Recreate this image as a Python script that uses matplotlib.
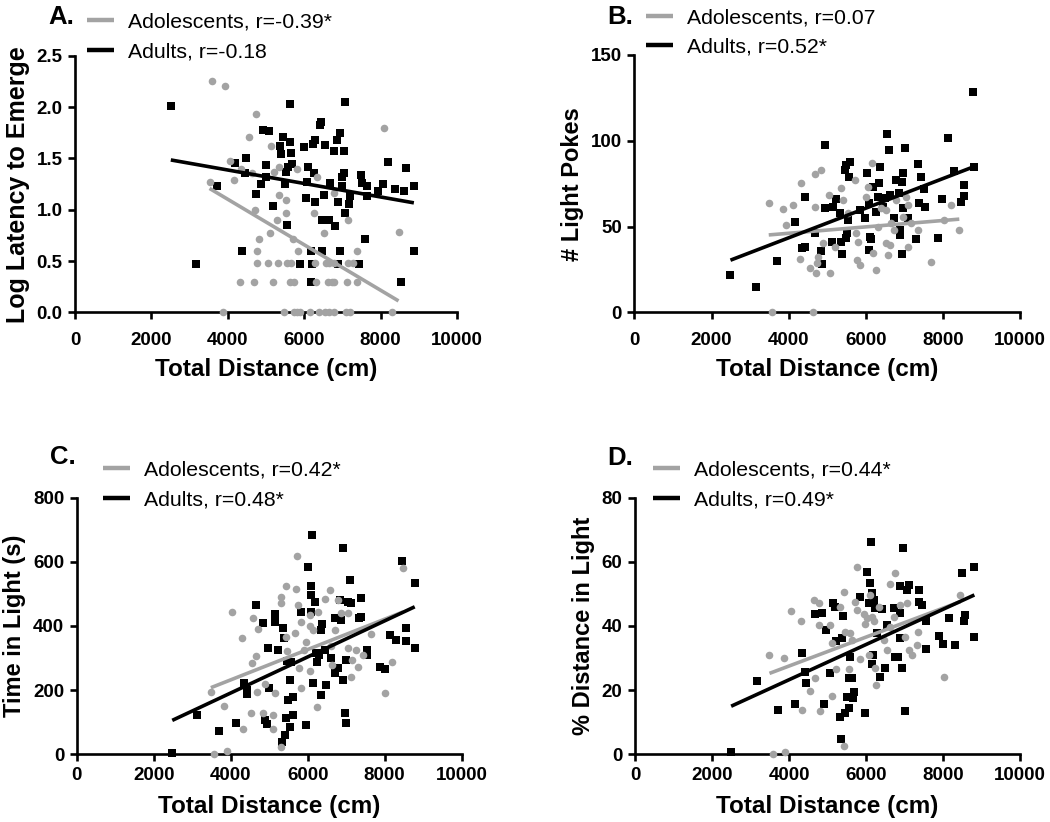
import numpy as np
import matplotlib
matplotlib.use("Agg")
import matplotlib.pyplot as plt
from matplotlib.lines import Line2D

plt.rcParams['font.family'] = ['Liberation Sans', 'DejaVu Sans']

# ---------------- Panel A: Log Latency to Emerge ----------------
A_adult_x = [2509, 3173, 3724, 4178, 4476, 4441, 4362, 4729, 4913, 5087, 4878, 4991, 5000, 5184,
             5376, 5402, 5446, 5507, 5533, 5559, 5638, 5621, 5664, 5690, 5577, 5900, 6005, 6075,
             6058, 6093, 6171, 6180, 6206, 6224, 6250, 6276, 6294, 6425, 6451, 6469, 6512, 6469,
             6643, 6556, 6687, 6774, 6801, 6862, 6932, 6888, 6879, 6949, 6993, 7036, 7036, 6993,
             7080, 7080, 7168, 7194, 7430, 7491, 7517, 7605, 7649, 7649, 7937, 8059, 8191, 8365,
             8523, 8610, 8654, 8872, 8872]
A_adult_y = [2.01, 0.47, 1.23, 1.46, 1.50, 1.36, 0.60, 1.15, 1.78, 1.77, 1.25, 1.44, 1.32, 1.04,
             1.62, 1.54, 1.71, 1.25, 1.37, 0.85, 2.03, 1.66, 1.55, 1.45, 1.42, 0.47, 1.61, 1.27,
             1.11, 1.42, 0.60, 0.30, 0.47, 1.64, 1.36, 1.08, 1.68, 1.83, 1.86, 0.60, 1.14, 0.90,
             0.90, 1.63, 1.26, 1.57, 0.84, 1.68, 1.75, 1.08, 0.47, 0.60, 1.32, 1.36, 1.57, 1.23,
             2.05, 0.97, 1.06, 1.13, 0.47, 1.34, 1.26, 0.71, 1.23, 1.13, 1.18, 1.25, 1.47, 1.20,
             0.30, 1.18, 1.41, 1.23, 0.60]
A_adol_x = [3593, 3934, 3523, 4047, 4152, 4353, 4633, 4545, 4746, 4720, 4808, 4764, 5131, 5201,
            5350, 5289, 5096, 5533, 5350, 5525, 5708, 5813, 5839, 6250, 6337, 6512, 6774, 7150,
            7386, 8103, 8470,
            4773, 5061, 5323, 5551, 5656, 6285, 6582, 6643, 6774, 7150, 7281,
            4327, 4676, 5184, 5638, 5743, 6320, 6626, 6731, 6774, 7124, 7386,
            3872, 5481, 5726, 5813, 5900, 6145, 6390, 6556, 6661, 6774, 7098, 7211, 8287]
A_adol_y = [2.26, 2.21, 1.27, 1.48, 1.29, 1.40, 1.36, 1.71, 1.93, 1.00, 0.71, 0.60, 1.62, 1.37,
            1.42, 0.90, 0.77, 0.97, 1.14, 1.10, 0.71, 1.40, 0.60, 0.97, 1.32, 0.77, 1.16, 0.90,
            0.60, 1.80, 0.78,
            0.48, 0.48, 0.48, 0.48, 0.48, 0.48, 0.48, 0.48, 0.48, 0.48, 0.48,
            0.30, 0.30, 0.30, 0.30, 0.30, 0.30, 0.30, 0.30, 0.30, 0.30, 0.30,
            0.0, 0.0, 0.0, 0.0, 0.0, 0.0, 0.0, 0.0, 0.0, 0.0, 0.0, 0.0, 0.0]

# ---------------- Panel B: # Light Pokes ----------------
B_adult_x = [2491, 3147, 3690, 4155, 4422, 4353, 4431, 4940, 4940, 4845, 4862, 4681, 5147, 5233,
             5121, 5345, 5379, 5336, 5448, 5491, 5595, 5560, 5534, 5491, 5517, 5836, 5966, 6026,
             6078, 6095, 6078, 6138, 6181, 6250, 6310, 6336, 6353, 6440, 6543, 6595, 6483, 6629,
             6741, 6784, 6853, 6871, 6931, 6931, 6957, 6974, 7017, 7086, 6871, 7302, 7345, 7388,
             7431, 7517, 7543, 7862, 7966, 8121, 8276, 8466, 8552, 8534, 8793, 8767]
B_adult_y = [21.8, 14.6, 29.7, 52.7, 67.4, 37.3, 38.3, 97.5, 60.6, 35.7, 28.0, 46.0, 61.6, 66.1,
             41.2, 41.2, 33.8, 57.7, 83.0, 85.9, 87.8, 79.1, 53.8, 43.1, 46.0, 59.6, 54.8, 81.4,
             63.5, 44.1, 36.3, 42.5, 73.2, 58.7, 67.4, 75.2, 84.9, 61.6, 103.7, 94.6, 66.4, 68.4,
             54.8, 77.1, 69.4, 45.1, 33.8, 76.2, 81.4, 60.6, 95.6, 54.8, 48.0, 42.5, 86.5, 63.5,
             79.1, 71.7, 61.6, 43.5, 65.9, 101.4, 82.6, 64.5, 74.2, 67.8, 84.5, 128.4]
B_adol_x = [3569, 4629, 3483, 3853, 4112, 4328, 3922, 4302, 4543, 4698, 4741, 4690, 4845, 4690,
            4759, 5060, 5043, 4888, 5190, 5362, 5405, 5534, 5707, 5750, 5793, 5836, 5767, 6009,
            6052, 6164, 6181, 6267, 6310, 6397, 6509, 6569, 6526, 6629, 6655, 6741, 6784, 6957,
            7086, 7086, 7172, 7345, 7690, 8017, 8207, 8420, 7043]
B_adol_y = [0.0, 0.0, 63.5, 60.0, 62.8, 75.6, 50.9, 30.9, 25.6, 22.7, 28.6, 80.6, 83.0, 61.6,
            32.4, 22.7, 68.4, 40.6, 38.3, 72.3, 65.5, 57.7, 77.1, 46.0, 41.2, 27.6, 30.5, 67.4,
            73.2, 86.8, 34.4, 24.7, 49.9, 60.6, 59.6, 33.4, 40.6, 39.2, 51.9, 48.0, 65.5, 55.8,
            62.6, 38.3, 51.9, 48.0, 29.5, 53.8, 62.6, 48.0, 67.4]

# ---------------- Panel C: Time in Light (s) ----------------
C_adult_x = [2483, 3131, 3694, 4135, 4351, 4412, 4412, 4671, 4844, 4888, 4931, 4957, 5000, 5147,
             5147, 5234, 5363, 5381, 5337, 5407, 5450, 5493, 5536, 5467, 5580, 5606, 5623, 5536,
             5839, 5969, 6012, 6099, 6081, 6099, 6125, 6142, 6185, 6211, 6246, 6298, 6358, 6384,
             6358, 6445, 6488, 6618, 6704, 6704, 6791, 6834, 6877, 6920, 6920, 6963, 7007, 7007,
             7050, 7093, 7136, 7335, 7396, 7396, 7543, 7543, 7872, 8002, 8131, 8304, 8451, 8547,
             8547, 8780, 8780]
C_adult_y = [3, 123, 71, 97, 221, 200, 188, 465, 410, 107, 95, 332, 206, 437,
             413, 325, 393, 362, 39, 60, 112, 169, 232, 292, 289, 180, 123, 86,
             445, 91, 585, 526, 497, 445, 685, 221, 476, 317, 289, 310, 388, 406,
             185, 325, 216, 299, 424, 252, 268, 481, 419, 644, 232, 128, 99, 294,
             476, 543, 471, 424, 488, 429, 325, 310, 273, 265, 372, 356, 603, 393,
             354, 332, 535]
C_adol_x = [3573, 3893, 3486, 3824, 4023, 4282, 4325, 4516, 4559, 4585, 4715, 4671, 4689, 4844,
            4888, 5087, 5104, 5147, 5303, 5303, 5433, 5303, 5433, 5467, 5683, 5709, 5735, 5753,
            5778, 5839, 5839, 5900, 5969, 6055, 6073, 6055, 6142, 6246, 6272, 6445, 6575, 6618,
            6644, 6704, 6791, 6877, 7050, 7050, 7136, 7163, 7266, 7309, 7439, 7656, 8002, 8201,
            8478]
C_adol_y = [0, 10, 195, 149, 444, 362, 78, 130, 286, 424, 390, 306, 195, 128,
            219, 123, 78, 190, 473, 489, 526, 24, 367, 323, 379, 515, 618, 465,
            268, 206, 413, 325, 351, 400, 434, 261, 388, 146, 445, 483, 512, 336,
            278, 388, 481, 439, 439, 330, 242, 294, 325, 273, 310, 375, 190, 287,
            580]

# ---------------- Panel D: % Distance in Light ----------------
D_adult_x = [2496, 3163, 3700, 4160, 4333, 4419, 4445, 4679, 4853, 4896, 4965, 5052, 5139, 5199,
             5225, 5373, 5399, 5347, 5329, 5459, 5503, 5555, 5572, 5546, 5633, 5676, 5659, 5849,
             5979, 6023, 6066, 6109, 6135, 6153, 6179, 6153, 6213, 6239, 6282, 6369, 6412, 6499,
             6542, 6716, 6759, 6828, 6889, 6889, 6932, 6958, 6889, 7019, 7062, 7106, 7366, 7366,
             7452, 7565, 7565, 7886, 7998, 8146, 8302, 8492, 8579, 8536, 8813, 8795]
D_adult_y = [0.8, 22.9, 13.8, 15.6, 31.5, 25.8, 22.1, 43.7, 43.9, 15.6, 38.8, 25.2, 47.3, 46.0,
             35.4, 36.2, 43.0, 4.7, 11.7, 12.8, 18.0, 14.3, 30.2, 23.7, 23.7, 19.5, 17.5, 49.1,
             13.0, 56.9, 47.1, 53.5, 66.3, 50.2, 31.0, 28.1, 48.0, 45.5, 37.9, 24.0, 45.2, 26.8,
             40.2, 45.7, 30.2, 30.2, 43.9, 36.2, 26.8, 64.2, 52.5, 13.6, 51.2, 52.8, 51.2, 47.6,
             46.5, 41.4, 32.7, 36.9, 34.4, 42.4, 34.1, 56.4, 43.4, 41.4, 58.5, 36.7]
D_adol_x = [3579, 3899, 3492, 3856, 4047, 4315, 4333, 4532, 4636, 4766, 4679, 4766, 4809, 5069,
            5113, 5113, 5225, 5329, 5416, 5459, 5416, 5546, 5572, 5633, 5719, 5763, 5763, 5849,
            5936, 5979, 6066, 6023, 6109, 6153, 6196, 6239, 6265, 6326, 6456, 6542, 6629, 6629,
            6716, 6759, 6889, 7019, 7062, 7106, 7192, 7322, 7340, 8016, 8450]
D_adol_y = [0.0, 0.8, 30.9, 30.0, 44.7, 41.4, 13.8, 19.8, 48.1, 47.3, 23.7, 40.3, 13.6, 40.3,
            18.2, 34.8, 26.5, 45.8, 50.7, 38.1, 2.6, 26.5, 37.7, 35.6, 47.6, 58.5, 45.0, 29.6,
            43.7, 40.6, 31.0, 42.4, 49.7, 42.9, 41.4, 26.8, 21.6, 46.0, 35.6, 32.5, 39.8, 53.0,
            42.9, 56.4, 46.5, 36.5, 47.1, 32.5, 31.0, 34.1, 38.2, 24.2, 49.7]

# legend labels
A_labels = ["Adolescents, r=-0.39*", "Adults, r=-0.18"]
B_labels = ["Adolescents, r=0.07", "Adults, r=0.52*"]
C_labels = ["Adolescents, r=0.42*", "Adults, r=0.48*"]
D_labels = ["Adolescents, r=0.44*", "Adults, r=0.49*"]

y_labels = ["Log Latency to Emerge", "# Light Pokes", "Time in Light (s)", "% Distance in Light"]
panel_letters = ["A.", "B.", "C.", "D."]
x_label = "Total Distance (cm)"
x_ticks = [0, 2000, 4000, 6000, 8000, 10000]

GRAY = "#a3a3a3"
BLACK = "#000000"
W, H = 1050, 822

fig = plt.figure(figsize=(10.5, 8.22), dpi=100)

# legend anchors given in pixels (handle left x, row1 y, row2 y); letter position in pixels
panels = [
    dict(rect=[0.0714, 0.6201, 0.3638, 0.3118], ad=(A_adult_x, A_adult_y), ado=(A_adol_x, A_adol_y),
         labels=A_labels, ylim=(0, 2.5), yticks=[0, 0.5, 1.0, 1.5, 2.0, 2.5], yfmt="{:.1f}",
         leg=(87, 20, 50), letter=(48, 14), xpad=9, xlabpad=7, ylabsize=18, ylabpad=5),
    dict(rect=[0.6041, 0.6201, 0.3676, 0.3130], ad=(B_adult_x, B_adult_y), ado=(B_adol_x, B_adol_y),
         labels=B_labels, ylim=(0, 150), yticks=[0, 50, 100, 150], yfmt="{:.0f}",
         leg=(646, 16, 45), letter=(607, 14), xpad=9, xlabpad=7, ylabsize=17, ylabpad=5),
    dict(rect=[0.0730, 0.0824, 0.3667, 0.3122], ad=(C_adult_x, C_adult_y), ado=(C_adol_x, C_adol_y),
         labels=C_labels, ylim=(0, 800), yticks=[0, 200, 400, 600, 800], yfmt="{:.0f}",
         leg=(103, 468, 498), letter=(50, 454), xpad=4, xlabpad=8, ylabsize=17, ylabpad=5),
    dict(rect=[0.6048, 0.0824, 0.3667, 0.3122], ad=(D_adult_x, D_adult_y), ado=(D_adol_x, D_adol_y),
         labels=D_labels, ylim=(0, 80), yticks=[0, 20, 40, 60, 80], yfmt="{:.0f}",
         leg=(653, 468, 498), letter=(607, 455), xpad=4, xlabpad=8, ylabsize=17, ylabpad=5),
]

for i, p in enumerate(panels):
    ax = fig.add_axes(p["rect"])
    ax_x, ax_y = np.array(p["ad"][0], float), np.array(p["ad"][1], float)
    ao_x, ao_y = np.array(p["ado"][0], float), np.array(p["ado"][1], float)

    ax.scatter(ax_x, ax_y, marker="s", s=32, color=BLACK, linewidths=0, zorder=3, clip_on=False)
    ax.scatter(ao_x, ao_y, marker="o", s=30, color=GRAY, linewidths=0, zorder=4, clip_on=False)

    # regression lines from the data
    for xs, ys, col in [(ao_x, ao_y, GRAY), (ax_x, ax_y, BLACK)]:
        m, b = np.polyfit(xs, ys, 1)
        xx = np.array([xs.min(), xs.max()])
        ax.plot(xx, m * xx + b, color=col, lw=2.6, zorder=5, solid_capstyle="butt")

    ax.set_xlim(0, 10000)
    ax.set_ylim(*p["ylim"])
    ax.set_xticks(x_ticks)
    ax.set_xticklabels([str(t) for t in x_ticks])
    ax.set_yticks(p["yticks"])
    ax.set_yticklabels([p["yfmt"].format(t) for t in p["yticks"]])
    for s in ["top", "right"]:
        ax.spines[s].set_visible(False)
    for s in ["left", "bottom"]:
        ax.spines[s].set_linewidth(1.9)
    ax.tick_params(axis="both", direction="out", length=5, width=1.9, labelsize=13.5, pad=4)
    ax.tick_params(axis="x", pad=p["xpad"])
    for lab in ax.get_xticklabels() + ax.get_yticklabels():
        lab.set_fontweight("bold")
    ax.set_xlabel(x_label, fontsize=17.5, fontweight="bold", labelpad=p["xlabpad"])
    ax.set_ylabel(y_labels[i], fontsize=p["ylabsize"], fontweight="bold", labelpad=p["ylabpad"])

    # legend drawn above the plot, positioned in figure pixels
    hx, y1, y2 = p["leg"]
    for (yy, col, lab) in [(y1, GRAY, p["labels"][0]), (y2, BLACK, p["labels"][1])]:
        fy = 1 - yy / H
        fig.add_artist(Line2D([hx / W, (hx + 27) / W], [fy, fy], transform=fig.transFigure,
                              color=col, lw=3.2, solid_capstyle="butt"))
        fig.text((hx + 41) / W, fy, lab, fontsize=15.3, ha="left", va="center_baseline")
    fig.text(p["letter"][0] / W, 1 - p["letter"][1] / H, panel_letters[i], fontsize=18.5,
             fontweight="bold", ha="left", va="center_baseline")

fig.savefig("out.png", dpi=100)
